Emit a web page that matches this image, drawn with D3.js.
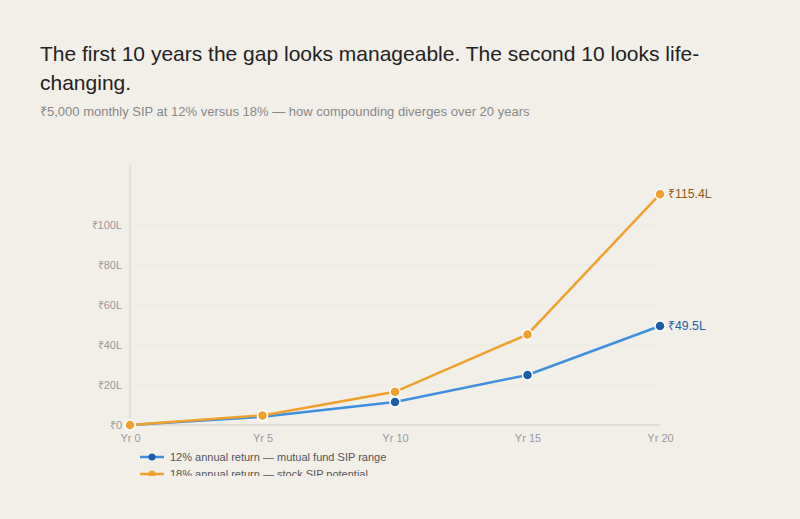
<!DOCTYPE html>
<html>
<head>
<meta charset="utf-8">
<script src="https://cdn.jsdelivr.net/npm/d3@7"></script>
<style>
  html, body { margin: 0; padding: 0; background: #f2efe9; }
  body { width: 800px; height: 519px; overflow: hidden; font-family: "Liberation Sans", Arial, sans-serif; }
</style>
</head>
<body>
<script>
const years = ["Yr 0", "Yr 5", "Yr 10", "Yr 15", "Yr 20"];
const sip12 = [0, 4.1, 11.5, 25.0, 49.5];
const sip18 = [0, 4.8, 16.6, 45.3, 115.4];
const yTicks = [0, 20, 40, 60, 80, 100];
const seriesNames = ["12% annual return — mutual fund SIP range", "18% annual return — stock SIP potential"];
const endLabels = ["₹49.5L", "₹115.4L"];
const titleLines = ["The first 10 years the gap looks manageable. The second 10 looks life-", "changing."];
const subtitle = "₹5,000 monthly SIP at 12% versus 18% — how compounding diverges over 20 years";

const W = 800, H = 519;
const svg = d3.select("body").append("svg").attr("width", W).attr("height", H);

svg.append("rect").attr("width", W).attr("height", H).attr("fill", "#f2efe9");

svg.selectAll("text.title").data(titleLines).enter().append("text")
  .attr("x", 40).attr("y", (d, i) => 61 + i * 29)
  .attr("font-size", 21).attr("fill", "#222").text(d => d);
svg.append("text").attr("x", 40).attr("y", 116).attr("font-size", 13).attr("fill", "#888").text(subtitle);

const x = d3.scalePoint().domain(years).range([130, 660]);
const y = d3.scaleLinear().domain([0, 130]).range([425, 165]);

const clip = svg.append("clipPath").attr("id", "c").append("rect")
  .attr("x", 0).attr("y", 140).attr("width", W).attr("height", 336);
const g = svg.append("g").attr("clip-path", "url(#c)");

// gridlines
g.selectAll("line.grid").data(yTicks.filter(d => d > 0)).enter().append("line")
  .attr("x1", 130).attr("x2", 660).attr("y1", d => y(d)).attr("y2", d => y(d))
  .attr("stroke", "#ebe8e1").attr("stroke-width", 1);

// vertical axis line
g.append("line").attr("x1", 130).attr("x2", 130).attr("y1", y(130)).attr("y2", y(0))
  .attr("stroke", "#e4e1da").attr("stroke-width", 2);
// baseline
g.append("line").attr("x1", 130).attr("x2", 660).attr("y1", y(0)).attr("y2", y(0))
  .attr("stroke", "#e0ddd6").attr("stroke-width", 2);

// y axis
const yAxis = d3.axisLeft(y).tickValues(yTicks).tickSize(0).tickPadding(8)
  .tickFormat(d => "₹" + d + (d === 0 ? "" : "L"));
const ya = g.append("g").attr("transform", "translate(130,0)").call(yAxis);
ya.select(".domain").remove();
ya.selectAll("text").attr("fill", "#999").attr("font-size", 11).attr("font-family", "Liberation Sans, Arial, sans-serif");

// x axis
const xAxis = d3.axisBottom(x).tickSize(0).tickPadding(9);
const xa = g.append("g").attr("transform", `translate(0,${y(0)})`).call(xAxis);
xa.select(".domain").remove();
xa.selectAll("text").attr("fill", "#999").attr("font-size", 11).attr("font-family", "Liberation Sans, Arial, sans-serif");

const series = [
  { vals: sip12, line: "#3d8fe0", dot: "#1a5ea6", label: "#1d5fa5" },
  { vals: sip18, line: "#f0a02c", dot: "#f0a02c", label: "#8f5a16" }
];
const lineGen = d3.line().x((d, i) => x(years[i])).y(d => y(d));

series.forEach((s, k) => {
  g.append("path").datum(s.vals).attr("d", lineGen)
    .attr("fill", "none").attr("stroke", s.line).attr("stroke-width", 2.5);
});
series.forEach((s, k) => {
  g.selectAll("circle.s" + k).data(s.vals).enter().append("circle")
    .attr("cx", (d, i) => x(years[i])).attr("cy", d => y(d)).attr("r", 5)
    .attr("fill", s.dot).attr("stroke", "#fff").attr("stroke-width", 1.5);
  const last = s.vals.length - 1;
  g.append("text").attr("x", x(years[last]) + 8).attr("y", y(s.vals[last]) + 4)
    .attr("font-size", 12.3).attr("fill", s.label).text(endLabels[k]);
});

// legend
series.forEach((s, k) => {
  const ly = 457 + k * 17;
  g.append("line").attr("x1", 140).attr("x2", 164).attr("y1", ly).attr("y2", ly)
    .attr("stroke", s.line).attr("stroke-width", 2.5);
  g.append("circle").attr("cx", 152).attr("cy", ly).attr("r", 3.5).attr("fill", s.dot);
  g.append("text").attr("x", 170).attr("y", ly + 4).attr("font-size", 11).attr("fill", "#555").text(seriesNames[k]);
});
</script>
</body>
</html>
